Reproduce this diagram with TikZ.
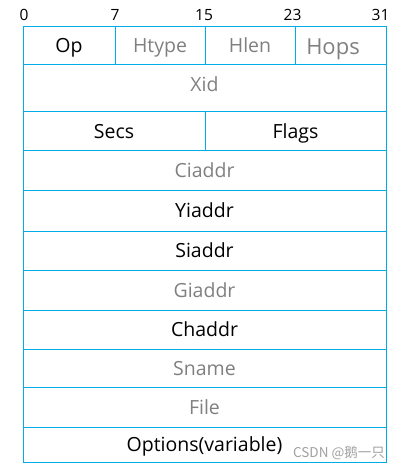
\documentclass[tikz,border=0pt]{standalone}
\usepackage{fontspec}
\setmainfont{Open Sans}
\newfontfamily\cjkfont{Noto Sans CJK SC}
\usepackage{tikz}
\usetikzlibrary{positioning}
\definecolor{linecyan}{RGB}{0,170,235}
\definecolor{txtgray}{RGB}{128,128,128}
\definecolor{markgray}{RGB}{160,160,160}
\tikzset{
  cell/.style = {draw=linecyan, line width=1pt, inner sep=0pt, outer sep=0pt,
    anchor=north west, text height=14pt, text depth=0pt,
    font=\fontsize{19.5}{19.5}\selectfont},
  dim/.style = {text=txtgray},
  full/.style = {cell, minimum width=363pt},
  bitnum/.style = {anchor=base, inner sep=0pt, font=\fontsize{15.5}{15.5}\selectfont}
}

\begin{document}
\begin{tikzpicture}[x=1pt, y=-1pt]
\useasboundingbox (0,0) rectangle (402,470);
% bit numbers
\node[bitnum] (b0) at (24,20.5) {0};
\node[bitnum] (b7) at (115,20.5) {7};
\node[bitnum] (b15) at (204,20.5) {15};
\node[bitnum] (b23) at (292.5,20.5) {23};
\node[bitnum] (b31) at (380.5,20.5) {31};
% first word
\node[cell, minimum width=92pt, minimum height=38pt] (op) at (23,27) {Op};
\node[cell, dim, minimum width=90pt, minimum height=38pt] (htype) at (op.north east) {Htype};
\node[cell, dim, minimum width=90pt, minimum height=38pt] (hlen) at (htype.north east) {Hlen};
\node[cell, minimum width=91pt, minimum height=38pt] (hops) at (hlen.north east) {};
\node[dim, inner sep=0pt, text height=16pt, text depth=0pt, font=\fontsize{22}{22}\selectfont]
  (hopstext) at ([xshift=-7.5pt, yshift=-1pt]hops.center) {Hops};
% the rest
\node[full, dim, minimum height=47pt, text depth=8pt] (xid) at (op.south west) {Xid};
\node[cell, minimum width=182pt, minimum height=39pt] (secs) at (xid.south west) {Secs};
\node[cell, minimum width=181pt, minimum height=39pt] (flags) at (secs.north east) {Flags};
\node[full, dim, minimum height=39pt] (ciaddr) at (secs.south west) {Ciaddr};
\node[full, minimum height=41pt] (yiaddr) at (ciaddr.south west) {Yiaddr};
\node[full, minimum height=39pt] (siaddr) at (yiaddr.south west) {Siaddr};
\node[full, dim, minimum height=40pt] (giaddr) at (siaddr.south west) {Giaddr};
\node[full, minimum height=39pt] (chaddr) at (giaddr.south west) {Chaddr};
\node[full, dim, minimum height=38pt] (sname) at (chaddr.south west) {Sname};
\node[full, dim, minimum height=40pt] (file) at (sname.south west) {File};
\node[full, minimum height=35pt] (options) at (file.south west) {Options(variable)};
% watermark
\node[anchor=base east, inner sep=0pt, text=markgray, font=\cjkfont\fontsize{13.5}{13.5}\selectfont]
  (mark) at (385,457) {CSDN @鹅一只};
\end{tikzpicture}
\end{document}
